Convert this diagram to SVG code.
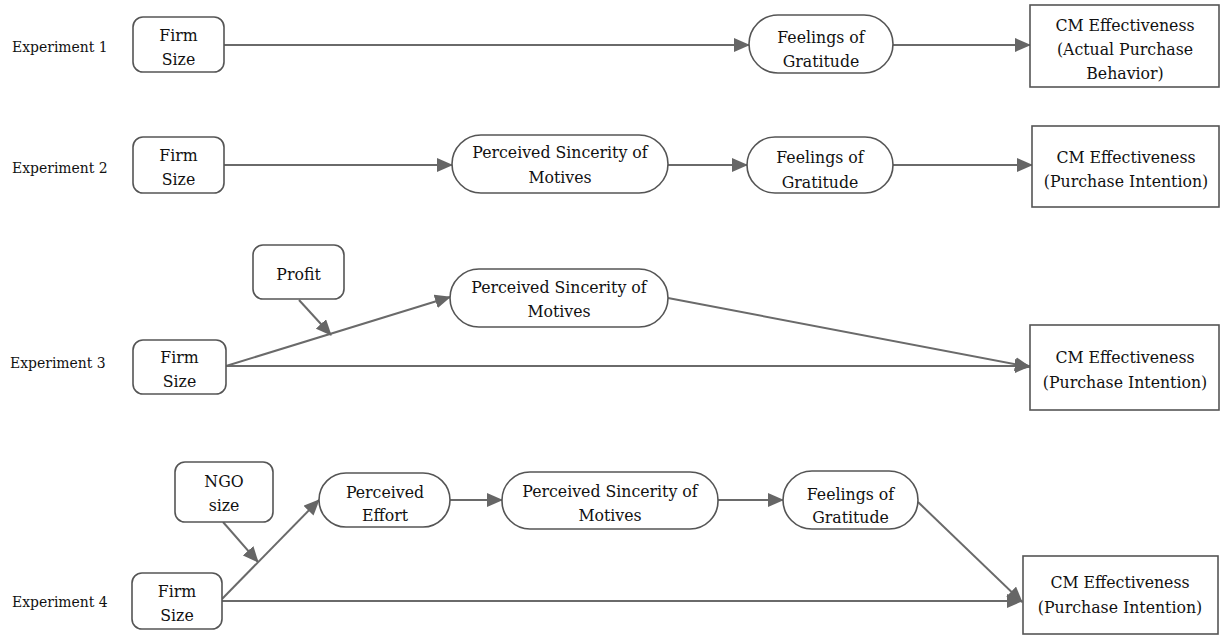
<svg xmlns="http://www.w3.org/2000/svg" width="1221" height="635" viewBox="0 0 1221 635">
<defs>
<marker id="arr" markerUnits="userSpaceOnUse" markerWidth="16" markerHeight="14" refX="15" refY="7" orient="auto">
<path d="M0,0 L16,7 L0,14 Z" fill="#666"/>
</marker>
<style>
text{font-family:'DejaVu Serif Condensed','DejaVu Serif','Liberation Serif',serif;font-stretch:condensed;font-size:17.5px;fill:#111;}
.lb{font-size:15.5px;}
.c{text-anchor:middle;}
.n{fill:#fff;stroke:#555;stroke-width:1.6;}
.e{fill:none;stroke:#6a6a6a;stroke-width:2;marker-end:url(#arr);}
</style>
</defs>
<rect width="1221" height="635" fill="#fff"/>

<g id="labels">
<text class="lb" x="12" y="52">Experiment 1</text>
<text class="lb" x="12" y="173">Experiment 2</text>
<text class="lb" x="10" y="368">Experiment 3</text>
<text class="lb" x="12" y="607">Experiment 4</text>
</g>

<g id="connectors">
<line class="e" x1="224" y1="45" x2="749" y2="45"/>
<line class="e" x1="893" y1="45" x2="1030" y2="45"/>
<line class="e" x1="224" y1="165" x2="452" y2="165"/>
<line class="e" x1="668" y1="165" x2="747" y2="165"/>
<line class="e" x1="893" y1="165" x2="1032" y2="165"/>
<line class="e" x1="226" y1="366" x2="450" y2="297"/>
<line class="e" x1="299" y1="300" x2="331" y2="335"/>
<line class="e" x1="226" y1="366" x2="1030" y2="366"/>
<line class="e" x1="668" y1="298" x2="1030" y2="367"/>
<line class="e" x1="222" y1="599" x2="319" y2="500"/>
<line class="e" x1="223" y1="522" x2="258" y2="562"/>
<line class="e" x1="450" y1="500" x2="502" y2="500"/>
<line class="e" x1="718" y1="500" x2="783" y2="500"/>
<line class="e" x1="918" y1="502" x2="1022" y2="602"/>
<line class="e" x1="222" y1="601" x2="1022" y2="601"/>
</g>

<g id="firm1"><rect class="n" x="133" y="17" width="91" height="55" rx="10"/>
<text class="c" x="178.5" y="41">Firm</text><text class="c" x="178.5" y="65">Size</text></g>
<g id="gratitude1"><rect class="n" x="749" y="15" width="144" height="58" rx="29"/>
<text class="c" x="821" y="43">Feelings of</text><text class="c" x="821" y="67">Gratitude</text></g>
<g id="cm1"><rect class="n" x="1030" y="5" width="189" height="82"/>
<text class="c" x="1125" y="31">CM Effectiveness</text><text class="c" x="1125" y="55">(Actual Purchase</text><text class="c" x="1125" y="79">Behavior)</text></g>

<g id="firm2"><rect class="n" x="133" y="137" width="91" height="56" rx="10"/>
<text class="c" x="178.5" y="161">Firm</text><text class="c" x="178.5" y="185">Size</text></g>
<g id="sincerity2"><rect class="n" x="452" y="135" width="216" height="58" rx="29"/>
<text class="c" x="560" y="158">Perceived Sincerity of</text><text class="c" x="560" y="183">Motives</text></g>
<g id="gratitude2"><rect class="n" x="747" y="137" width="146" height="56" rx="28"/>
<text class="c" x="820" y="163">Feelings of</text><text class="c" x="820" y="188">Gratitude</text></g>
<g id="cm2"><rect class="n" x="1032" y="126" width="187" height="81"/>
<text class="c" x="1126" y="163">CM Effectiveness</text><text class="c" x="1126" y="187">(Purchase Intention)</text></g>

<g id="profit"><rect class="n" x="253" y="245" width="91" height="54" rx="10"/>
<text class="c" x="298.5" y="280">Profit</text></g>
<g id="firm3"><rect class="n" x="133" y="340" width="93" height="54" rx="10"/>
<text class="c" x="179.5" y="363">Firm</text><text class="c" x="179.5" y="387">Size</text></g>
<g id="sincerity3"><rect class="n" x="450" y="269" width="218" height="58" rx="29"/>
<text class="c" x="559" y="293">Perceived Sincerity of</text><text class="c" x="559" y="317">Motives</text></g>
<g id="cm3"><rect class="n" x="1030" y="325" width="189" height="85"/>
<text class="c" x="1125" y="363">CM Effectiveness</text><text class="c" x="1125" y="388">(Purchase Intention)</text></g>

<g id="ngo"><rect class="n" x="175" y="462" width="98" height="60" rx="10"/>
<text class="c" x="224" y="487">NGO</text><text class="c" x="224" y="511">size</text></g>
<g id="firm4"><rect class="n" x="132" y="573" width="90" height="56" rx="10"/>
<text class="c" x="177" y="597">Firm</text><text class="c" x="177" y="621">Size</text></g>
<g id="effort"><rect class="n" x="319" y="473" width="131" height="54" rx="27"/>
<text class="c" x="385" y="498">Perceived</text><text class="c" x="385" y="521">Effort</text></g>
<g id="sincerity4"><rect class="n" x="502" y="472" width="216" height="57" rx="28"/>
<text class="c" x="610" y="497">Perceived Sincerity of</text><text class="c" x="610" y="521">Motives</text></g>
<g id="gratitude4"><rect class="n" x="783" y="471" width="135" height="58" rx="29"/>
<text class="c" x="850.5" y="500">Feelings of</text><text class="c" x="850.5" y="523">Gratitude</text></g>
<g id="cm4"><rect class="n" x="1023" y="556" width="195" height="78"/>
<text class="c" x="1120" y="588">CM Effectiveness</text><text class="c" x="1120" y="613">(Purchase Intention)</text></g>
</svg>
